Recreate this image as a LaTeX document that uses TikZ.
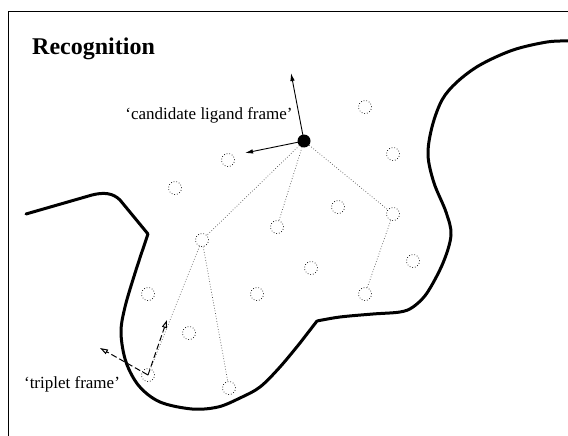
\documentclass[tikz,border=0pt]{standalone}
\usepackage{fontspec}
\setmainfont{Liberation Serif}
\usetikzlibrary{arrows.meta}
\begin{document}
\begin{tikzpicture}[x=1pt,y=-1pt,
 site/.style={circle,draw,dotted,line width=0.7pt,minimum size=13pt,inner sep=0pt},
 lig/.style={circle,fill=black,minimum size=13pt,inner sep=0pt},
 surface/.style={line width=3pt,line join=round,line cap=round},
 link/.style={dotted,line width=0.7pt,black!70},
 axis/.style={line width=0.9pt,-{Latex[length=8pt,width=4.5pt]}},
 tri/.style={dash pattern=on 6pt off 3pt,line width=1pt,-{Triangle[open,length=8pt,width=5pt]}},
 lbl/.style={font=\fontsize{17}{17}\selectfont,anchor=base,inner sep=0pt},
 ttl/.style={font=\fontsize{24}{24}\selectfont\bfseries,anchor=base west,inner sep=0pt}]
\useasboundingbox (0,0) rectangle (568,436);
\fill[white] (0,0) rectangle (568,436);
\draw[line width=0.8pt] (568,11) -- (8,11) -- (8,436);
\node[ttl] (title) at (32,55) {Recognition};
% surface
\draw[surface] (26,214) -- (92,195) .. controls (104,192) and (113,193) .. (120,200) -- (148,234)
  plot[smooth,tension=0.55] coordinates {(148,234) (136,270) (125,307) (121,333) (126,362) (139,386) (160,402) (192,409) (218,407) (240,398) (260,387) (280,367) (300,343)}
  -- (317,321)
  plot[smooth,tension=0.55] coordinates {(317,321) (340,317) (373,314) (400,312) (413,307) (427,293) (443,263) (451,235) (446,212) (434,183) (428,155) (432,127) (442,100) (457,82) (480,65) (513,50) (547,42) (568,41)};
% sites
\node[site] (s1) at (365,107) {};
\node[site] (s2) at (228,160) {};
\node[site] (s3) at (393,154) {};
\node[site] (s4) at (175,188) {};
\node[site] (s5) at (338,207) {};
\node[site] (s6) at (277,227) {};
\node[site] (s7) at (393,214) {};
\node[site] (s8) at (202,240) {};
\node[site] (s9) at (413,261) {};
\node[site] (s10) at (148,294) {};
\node[site] (s11) at (257,294) {};
\node[site] (s12) at (311,268) {};
\node[site] (s13) at (365,294) {};
\node[site] (s14) at (189,333) {};
\node[site] (s15) at (148,375) {};
\node[site] (s16) at (229,388) {};
\node[lig] (L) at (304,141) {};
% links
\draw[link] (L) -- (s8);
\draw[link] (L) -- (s6);
\draw[link] (L) -- (s7);
\draw[link] (s8) -- (s15);
\draw[link] (s8) -- (s16);
\draw[link] (s7) -- (s13);
% ligand frame axes
\coordinate (ax1) at (291,73);
\coordinate (ax2) at (245,153);
\draw[axis] (L.center) -- (ax1);
\draw[axis] (L.center) -- (ax2);
% triplet frame axes
\coordinate (tx1) at (167,320);
\coordinate (tx2) at (100,348);
\draw[tri] (s15.center) -- (tx1);
\draw[tri] (s15.center) -- (tx2);
% labels
\node[lbl] (lc) at (209,120) {‘candidate ligand frame’};
\node[lbl] (lt) at (72,388) {‘triplet frame’};
\end{tikzpicture}
\end{document}
